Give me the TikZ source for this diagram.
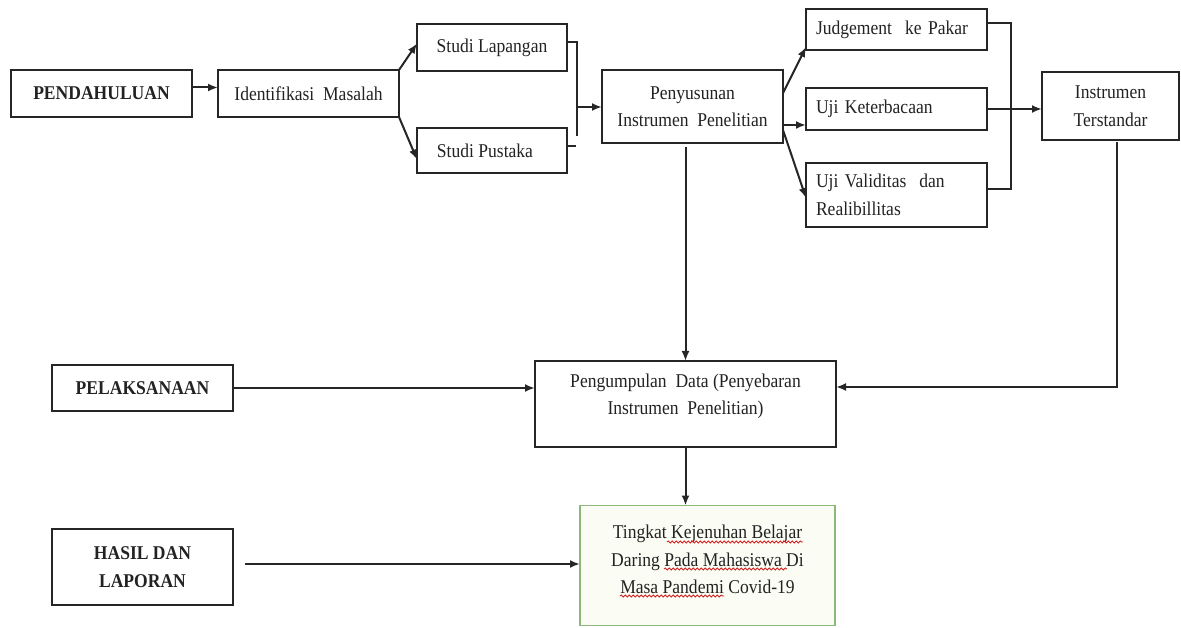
\documentclass[tikz,border=0pt]{standalone}
\usepackage{fontspec}
\setmainfont{Liberation Serif}[FakeStretch=0.9]
\usetikzlibrary{arrows.meta,decorations.pathmorphing}
\definecolor{boxc}{HTML}{262626}
\definecolor{txtc}{HTML}{222222}
\definecolor{greenc}{HTML}{8DB87C}
\definecolor{paleg}{HTML}{FBFDF5}
\definecolor{spellred}{HTML}{D02020}
\tikzset{
  box/.style={draw=boxc, line width=2pt, inner sep=0pt, outer sep=0pt, align=center,
    text=txtc, font=\fontsize{19.5}{27.5}\selectfont},
  lbox/.style={box, inner xsep=10pt, align=left},
  gbox/.style={box, draw=greenc, line width=1.2pt, fill=paleg},
  conn/.style={draw=boxc, line width=2pt},
  arr/.style={conn, -{Latex[length=10pt,width=8pt]}},
  wavy/.style={draw=spellred, line width=0.8pt, decorate,
    decoration={snake, amplitude=1.1pt, segment length=4pt}}
}
\begin{document}
\begin{tikzpicture}[x=1pt,y=-1pt]
\useasboundingbox (0,0) rectangle (1181,628);
% nodes
\node[box, minimum width=181, minimum height=47] (pend) at (101.5,93.5) {\textbf{PENDAHULUAN}};
\node[box, minimum width=181, minimum height=47] (ident) at (308.5,93.5) {Identifikasi\ \ Masalah};
\node[box, minimum width=150, minimum height=47] (slap) at (492,47.5) {Studi Lapangan};
\node[box, minimum width=150, minimum height=45] (spus) at (492,150.5) {Studi Pustaka\hspace{14pt}};
\node[box, minimum width=181, minimum height=73] (peny) at (692.5,106.5) {Penyusunan\\Instrumen\ \ Penelitian};
\node[lbox, text width=161, minimum height=41] (judg) at (896.5,29.5) {Judgement\ \ ke Pakar};
\node[lbox, text width=161, minimum height=42] (ujik) at (896.5,109) {Uji Keterbacaan};
\node[lbox, text width=161, minimum height=64] (ujiv) at (896.5,195) {Uji Validitas\ \ dan\\Realibillitas};
\node[box, minimum width=137, minimum height=68] (inst) at (1110.5,106) {Instrumen\\Terstandar};
\node[box, minimum width=301, minimum height=86] (peng) at (685.5,404) {Pengumpulan\ \ Data (Penyebaran\\Instrumen\ \ Penelitian)\\[-8pt]};
\node[box, minimum width=181, minimum height=46] (pel) at (142.5,388) {\textbf{PELAKSANAAN}};
\node[box, minimum width=181, minimum height=76] (hasil) at (142.5,567) {\textbf{HASIL DAN}\\\textbf{LAPORAN}};
\node[gbox, minimum width=255, minimum height=120] (ting) at (707.5,565.5) {Tingkat Kejenuhan Belajar\\Daring Pada Mahasiswa Di\\Masa Pandemi Covid-19\\[-15pt]};
% spell-check underlines
\coordinate (w1a) at (667,542); \coordinate (w1b) at (803,542);
\coordinate (w2a) at (664,569); \coordinate (w2b) at (787,569);
\coordinate (w3a) at (620,596); \coordinate (w3b) at (724,596);
\draw[wavy] (w1a) -- (w1b);
\draw[wavy] (w2a) -- (w2b);
\draw[wavy] (w3a) -- (w3b);
% coordinates
\coordinate (bt) at (577,42);
\coordinate (bb) at (577,136);
\coordinate (bm) at (577,107);
\coordinate (st) at (576,146);
\coordinate (mb) at (1011,189);
% connectors
\draw[arr] ([yshift=6pt]pend.east) -- ([yshift=6pt]ident.west);
\draw[arr] (ident.north east) -- ([yshift=4pt]slap.west);
\draw[arr] (ident.south east) -- ([yshift=-9pt]spus.west);
\draw[conn] (slap.east |- bt) -- (bt) -- (bb);
\draw[conn] (spus.east |- st) -- (st);
\draw[arr] (bm) -- (peny.west |- bm);
\draw[arr] ([yshift=13.5pt]peny.east) -- ([yshift=3pt]judg.south west);
\draw[arr] ([yshift=-18.5pt]peny.east) -- ([yshift=-18.5pt]peny.east -| ujik.west);
\draw[arr] ([yshift=-23.5pt]peny.east) -- ([yshift=-3pt]ujiv.west);
\draw[conn] ([yshift=6.5pt]judg.east) -| (mb) -- (mb -| ujiv.east);
\draw[arr] (ujik.east) -- (ujik.east -| inst.west);
\draw[arr, shorten <=4pt] (peng.north |- peny.south) -- (peng.north);
\draw[arr, shorten <=2pt] ([xshift=6.5pt]inst.south) |- ([yshift=17pt]peng.east);
\draw[arr] (pel.east) -- (pel.east -| peng.west);
\draw[arr] (peng.south) -- (peng.south |- ting.north);
\draw[arr, shorten <=12pt] ([yshift=3pt]hasil.east) -- ([yshift=3pt]hasil.east -| ting.west);
\end{tikzpicture}
\end{document}
